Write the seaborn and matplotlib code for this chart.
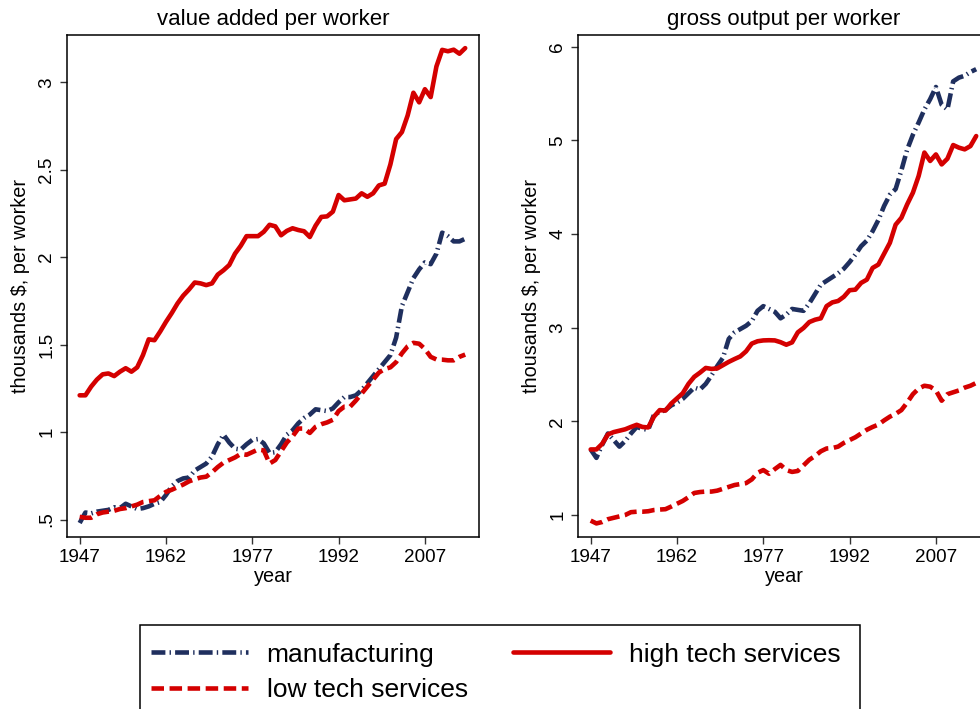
import pandas as pd
import seaborn as sns
import matplotlib.pyplot as plt
from matplotlib.patches import Rectangle

# years covered by the series
years = list(range(1947, 2015))
sectors = ['manufacturing', 'low tech services', 'high tech services']

# value added per worker (thousands $)
va_manufacturing = [0.48, 0.54, 0.535, 0.545, 0.55, 0.555, 0.57, 0.565, 0.59, 0.575,
                    0.56, 0.565, 0.575, 0.59, 0.60, 0.64, 0.69, 0.72, 0.735, 0.74,
                    0.78, 0.80, 0.82, 0.86, 0.93, 0.985, 0.94, 0.905, 0.90, 0.93,
                    0.955, 0.96, 0.935, 0.88, 0.885, 0.93, 0.985, 1.01, 1.05, 1.08,
                    1.10, 1.13, 1.125, 1.12, 1.135, 1.17, 1.20, 1.20, 1.21, 1.24,
                    1.28, 1.32, 1.36, 1.40, 1.44, 1.54, 1.72, 1.80, 1.88, 1.93,
                    1.97, 1.96, 2.02, 2.14, 2.12, 2.09, 2.09, 2.105]
va_low_tech = [0.515, 0.51, 0.51, 0.53, 0.54, 0.545, 0.55, 0.56, 0.565, 0.575,
               0.585, 0.60, 0.605, 0.61, 0.635, 0.658, 0.67, 0.685, 0.70, 0.718,
               0.73, 0.74, 0.745, 0.77, 0.80, 0.825, 0.84, 0.855, 0.875, 0.87,
               0.885, 0.90, 0.895, 0.82, 0.84, 0.89, 0.94, 0.975, 1.02, 1.02,
               0.995, 1.03, 1.045, 1.055, 1.07, 1.12, 1.145, 1.145, 1.18, 1.22,
               1.26, 1.30, 1.34, 1.36, 1.37, 1.40, 1.45, 1.49, 1.51, 1.505,
               1.475, 1.43, 1.415, 1.414, 1.41, 1.41, 1.43, 1.443]
va_high_tech = [1.21, 1.21, 1.26, 1.30, 1.33, 1.335, 1.32, 1.345, 1.365, 1.345,
                1.37, 1.44, 1.53, 1.525, 1.575, 1.63, 1.68, 1.735, 1.78, 1.815,
                1.855, 1.85, 1.84, 1.85, 1.90, 1.925, 1.955, 2.02, 2.065, 2.12,
                2.12, 2.12, 2.145, 2.185, 2.176, 2.125, 2.15, 2.165, 2.155, 2.148,
                2.115, 2.18, 2.23, 2.233, 2.26, 2.355, 2.325, 2.33, 2.335, 2.365,
                2.345, 2.365, 2.41, 2.42, 2.53, 2.675, 2.715, 2.81, 2.94, 2.885,
                2.96, 2.915, 3.09, 3.185, 3.177, 3.186, 3.163, 3.195]

# gross output per worker (thousands $)
go_manufacturing = [1.70, 1.61, 1.75, 1.87, 1.80, 1.73, 1.79, 1.87, 1.94, 1.92,
                    1.91, 2.07, 2.10, 2.12, 2.17, 2.20, 2.24, 2.30, 2.36, 2.34,
                    2.40, 2.49, 2.59, 2.68, 2.88, 2.95, 2.985, 3.02, 3.07, 3.18,
                    3.23, 3.20, 3.17, 3.10, 3.14, 3.20, 3.19, 3.18, 3.26, 3.36,
                    3.46, 3.50, 3.54, 3.58, 3.63, 3.70, 3.78, 3.87, 3.93, 4.03,
                    4.15, 4.30, 4.42, 4.48, 4.68, 4.90, 5.06, 5.19, 5.33, 5.44,
                    5.57, 5.38, 5.33, 5.63, 5.67, 5.69, 5.73, 5.76]
go_low_tech = [0.94, 0.91, 0.925, 0.955, 0.97, 0.985, 1.00, 1.03, 1.035, 1.035,
               1.04, 1.053, 1.058, 1.062, 1.09, 1.12, 1.15, 1.19, 1.235, 1.245,
               1.25, 1.25, 1.26, 1.28, 1.30, 1.32, 1.33, 1.34, 1.38, 1.45,
               1.48, 1.44, 1.49, 1.535, 1.48, 1.46, 1.47, 1.53, 1.59, 1.63,
               1.68, 1.71, 1.715, 1.73, 1.77, 1.80, 1.83, 1.87, 1.91, 1.94,
               1.965, 2.01, 2.05, 2.08, 2.12, 2.20, 2.29, 2.35, 2.38, 2.37,
               2.33, 2.22, 2.29, 2.31, 2.33, 2.36, 2.38, 2.41]
go_high_tech = [1.70, 1.70, 1.76, 1.86, 1.885, 1.90, 1.915, 1.94, 1.963, 1.94,
                1.935, 2.05, 2.12, 2.115, 2.19, 2.245, 2.30, 2.40, 2.475, 2.52,
                2.57, 2.56, 2.565, 2.60, 2.635, 2.665, 2.693, 2.747, 2.83, 2.855,
                2.864, 2.866, 2.864, 2.845, 2.818, 2.843, 2.95, 2.997, 3.06, 3.085,
                3.10, 3.23, 3.27, 3.285, 3.33, 3.40, 3.406, 3.478, 3.513, 3.638,
                3.674, 3.79, 3.906, 4.10, 4.173, 4.316, 4.441, 4.62, 4.87, 4.78,
                4.85, 4.743, 4.804, 4.95, 4.922, 4.904, 4.939, 5.046]

x_ticks = [1947, 1962, 1977, 1992, 2007]
va_ticks = [0.5, 1, 1.5, 2, 2.5, 3]
va_tick_labels = ['.5', '1', '1.5', '2', '2.5', '3']
go_ticks = [1, 2, 3, 4, 5, 6]
go_tick_labels = ['1', '2', '3', '4', '5', '6']

# long format table for seaborn
frames = []
for name, va, go in zip(sectors,
                        [va_manufacturing, va_low_tech, va_high_tech],
                        [go_manufacturing, go_low_tech, go_high_tech]):
    frames.append(pd.DataFrame({'year': years, 'va': va, 'go': go, 'sector': name}))
df = pd.concat(frames, ignore_index=True)

sns.set_style('ticks')
plt.rcParams['font.family'] = ['Liberation Sans', 'DejaVu Sans']
plt.rcParams['lines.scale_dashes'] = False
for key in ['text.color', 'axes.labelcolor', 'xtick.labelcolor', 'ytick.labelcolor']:
    plt.rcParams[key] = 'black'

palette = {'manufacturing': '#1f2f5e', 'low tech services': '#d40000',
           'high tech services': '#d40000'}
dashes = {'manufacturing': (10, 3, 1, 3), 'low tech services': (9, 4),
          'high tech services': ''}

fig = plt.figure(figsize=(9.8, 7.09), dpi=100)
ax1 = fig.add_axes([67 / 980, 172 / 709, 412 / 980, 502 / 709])
ax2 = fig.add_axes([578 / 980, 172 / 709, 412 / 980, 502 / 709])

panels = [(ax1, 'va', 'value added per worker', (0.4, 3.27), va_ticks, va_tick_labels),
          (ax2, 'go', 'gross output per worker', (0.765, 6.125), go_ticks, go_tick_labels)]

for ax, col, title, ylim, yt, ytl in panels:
    sns.lineplot(data=df, x='year', y=col, hue='sector', style='sector',
                 hue_order=sectors, style_order=sectors, palette=palette,
                 dashes=dashes, linewidth=3.3, estimator=None, sort=False,
                 legend=False, ax=ax)
    ax.set_xlim(1944.8, 2016.4)
    ax.set_ylim(*ylim)
    ax.set_xticks(x_ticks)
    ax.set_xticklabels([str(t) for t in x_ticks])
    ax.set_yticks(yt)
    ax.set_yticklabels(ytl, rotation=90, va='center')
    ax.tick_params(labelsize=13.6, length=5, width=1, color='#333333',
                   labelcolor='black')
    ax.set_title(title, fontsize=16, pad=7, color='black')
    ax.set_xlabel('year', fontsize=14.3, labelpad=1, color='black')
    ax.set_ylabel(r'thousands \$, per worker', fontsize=14.3, labelpad=6,
                  color='black')
    for sp in ax.spines.values():
        sp.set_visible(True)
        sp.set_linewidth(1.1)
        sp.set_color('black')

# legend box runs off the bottom of the figure, as in the original export
fig.patches.append(Rectangle((140 / 980, -10 / 709), 720 / 980, (709 - 624.5 + 10) / 709,
                             transform=fig.transFigure, fill=False,
                             edgecolor='black', linewidth=1.1))

handles = ax1.get_lines()[:3]
leg = fig.legend(handles, sectors, loc='upper left',
                 bbox_to_anchor=(140 / 980, 1 - 632 / 709), ncol=2,
                 frameon=False, fontsize=19, handlelength=3.7,
                 handletextpad=0.7, columnspacing=1.7, borderpad=0.4,
                 labelspacing=0.43, borderaxespad=0)
for txt in leg.get_texts():
    txt.set_color('black')

plt.savefig('out.png', dpi=100)
plt.close()
